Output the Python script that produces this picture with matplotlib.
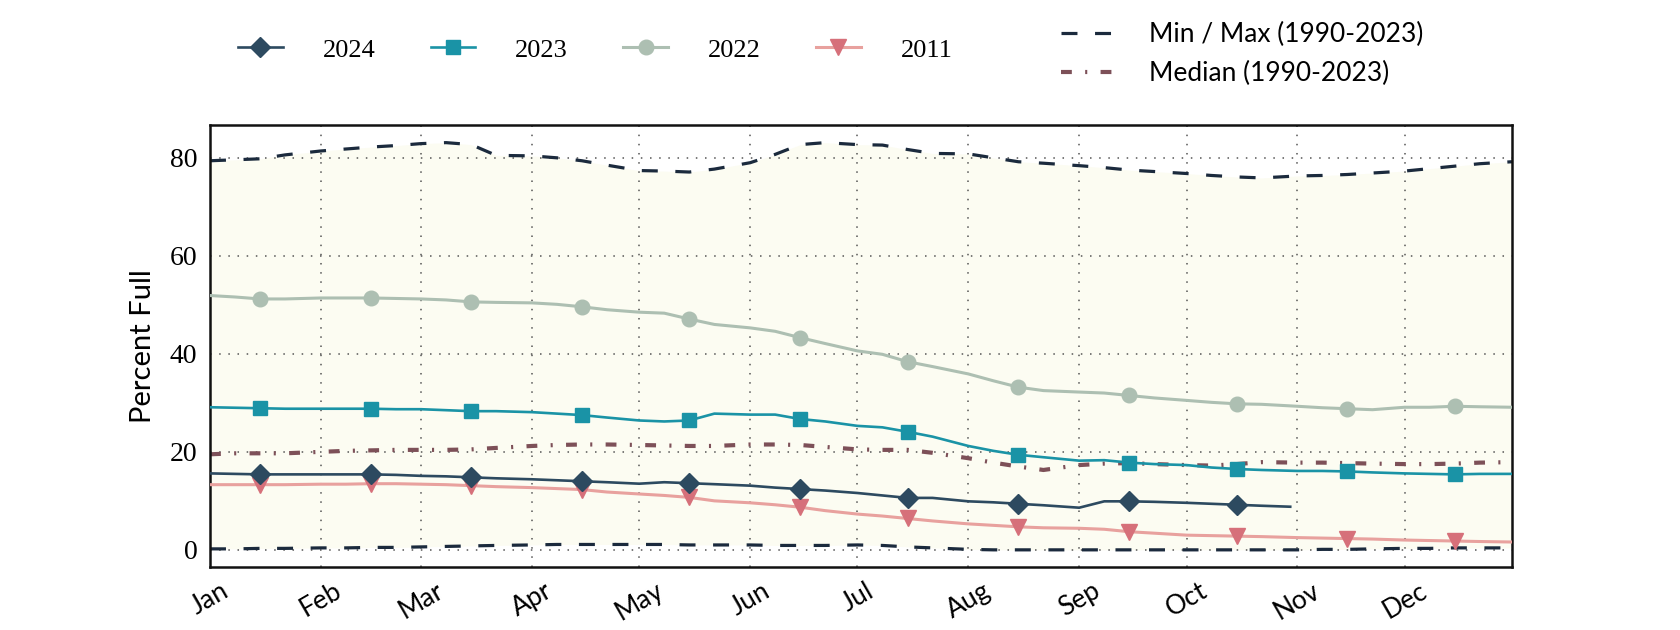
import datetime as dt
import matplotlib
matplotlib.use('Agg')
import matplotlib.pyplot as plt
import matplotlib.dates as mdates

# sample days: 1st, 8th, 15th, 22nd of every month, plus Dec 31
dates = [f'{m:02d}-{d:02d}' for m in range(1, 13) for d in (1, 8, 15, 22)] + ['12-31']
dates_2024 = dates[:40] + ['10-30']

max_1990_2023 = [79.4, 79.6, 79.8, 80.6, 81.4, 81.8, 82.2, 82.5, 82.9, 83.1, 82.7, 80.5,
                 80.4, 80.0, 79.4, 78.5, 77.4, 77.3, 77.1, 77.7, 79.0, 80.7, 82.7, 83.1,
                 82.7, 82.6, 81.7, 80.9, 80.8, 80.0, 79.2, 78.9, 78.4, 78.0, 77.5, 77.2,
                 76.8, 76.4, 76.1, 75.9, 76.3, 76.4, 76.6, 76.9, 77.3, 77.8, 78.3, 78.8, 79.2]
min_1990_2023 = [0.2, 0.2, 0.3, 0.3, 0.4, 0.4, 0.5, 0.5, 0.6, 0.7, 0.8, 0.9,
                 1.0, 1.1, 1.1, 1.1, 1.1, 1.1, 1.0, 1.0, 1.0, 0.9, 0.9, 0.9,
                 1.0, 0.9, 0.6, 0.4, 0.1, 0.0, 0.0, 0.0, 0.0, 0.0, 0.0, 0.0,
                 0.0, 0.0, 0.0, 0.0, 0.0, 0.1, 0.1, 0.2, 0.3, 0.3, 0.4, 0.4, 0.4]
median_1990_2023 = [19.5, 19.7, 19.7, 19.7, 20.0, 20.2, 20.3, 20.4, 20.4, 20.4, 20.5, 20.8,
                    21.2, 21.4, 21.5, 21.5, 21.4, 21.3, 21.2, 21.2, 21.5, 21.5, 21.4, 21.0,
                    20.5, 20.4, 20.4, 19.8, 18.7, 17.8, 17.0, 16.3, 17.3, 17.6, 17.7, 17.5,
                    17.3, 17.2, 17.5, 17.9, 17.8, 17.8, 17.7, 17.6, 17.5, 17.5, 17.6, 17.8, 17.9]
y2022 = [51.9, 51.6, 51.2, 51.2, 51.4, 51.4, 51.4, 51.3, 51.2, 51.0, 50.6, 50.5,
         50.4, 50.1, 49.6, 49.0, 48.5, 48.3, 47.1, 46.0, 45.3, 44.6, 43.3, 42.1,
         40.6, 39.9, 38.4, 37.4, 35.9, 34.5, 33.2, 32.5, 32.2, 32.0, 31.5, 31.0,
         30.5, 30.1, 29.8, 29.7, 29.3, 29.0, 28.8, 28.6, 29.1, 29.1, 29.3, 29.2, 29.1]
y2023 = [29.1, 29.0, 28.9, 28.8, 28.8, 28.8, 28.8, 28.7, 28.7, 28.5, 28.3, 28.3,
         28.1, 27.8, 27.5, 27.0, 26.4, 26.2, 26.4, 27.8, 27.6, 27.6, 26.7, 26.2,
         25.3, 25.0, 24.1, 23.1, 21.2, 20.2, 19.4, 18.9, 18.2, 18.3, 17.8, 17.5,
         17.3, 16.8, 16.5, 16.3, 16.1, 16.1, 16.0, 15.8, 15.6, 15.5, 15.4, 15.5, 15.5]
y2024 = [15.6, 15.5, 15.4, 15.4, 15.4, 15.4, 15.4, 15.3, 15.1, 15.0, 14.8, 14.6,
         14.4, 14.2, 14.0, 13.8, 13.5, 13.8, 13.6, 13.4, 13.1, 12.7, 12.4, 12.1,
         11.6, 11.1, 10.6, 10.6, 9.9, 9.7, 9.4, 9.1, 8.6, 9.9, 9.9, 9.8,
         9.6, 9.4, 9.2, 9.0, 8.8]
y2011 = [13.3, 13.3, 13.3, 13.3, 13.4, 13.4, 13.5, 13.5, 13.4, 13.3, 13.1, 12.9,
         12.7, 12.5, 12.3, 11.8, 11.4, 11.1, 10.7, 10.0, 9.6, 9.2, 8.7, 8.0,
         7.3, 6.9, 6.4, 5.9, 5.3, 5.0, 4.7, 4.5, 4.4, 4.2, 3.7, 3.4,
         3.0, 2.9, 2.8, 2.7, 2.5, 2.4, 2.3, 2.2, 2.0, 1.9, 1.8, 1.7, 1.6]

SANS = ['Lato', 'DejaVu Sans']
SERIF = ['Liberation Serif', 'DejaVu Serif']


def to_dates(labels):
    return [dt.datetime.strptime('2023-' + s, '%Y-%m-%d') for s in labels]


x = to_dates(dates)
x24 = to_dates(dates_2024)
marks = slice(2, None, 4)  # the 15th of each month

fig = plt.figure(figsize=(16.8, 6.3), dpi=100)
ax = fig.add_axes([0.125, 0.1, 0.775, 0.7016])

ax.fill_between(x, min_1990_2023, max_1990_2023, color='#fcfcf2', lw=0, zorder=0.2)
ax.plot(x, max_1990_2023, color='#1b2a3d', lw=2.3, dashes=(5, 5.5),
        label='Min / Max (1990-2023)', zorder=2)
ax.plot(x, min_1990_2023, color='#1b2a3d', lw=2.3, dashes=(5, 5.5), zorder=2)
ax.plot(x, median_1990_2023, color='#7d5058', lw=3.0, dashes=(2.6, 3.2, 0.5, 3.2),
        label='Median (1990-2023)', zorder=2)

l2011, = ax.plot(x, y2011, color='#e8a19e', lw=2.2, marker='v', ms=11,
                 mfc='#d6707a', mec='#d6707a', markevery=marks, label='2011', zorder=3)
l2022, = ax.plot(x, y2022, color='#adbfb2', lw=2.2, marker='o', ms=10.5,
                 markevery=marks, label='2022', zorder=3)
l2023, = ax.plot(x, y2023, color='#1a93a6', lw=1.9, marker='s', ms=10.5,
                 markevery=marks, label='2023', zorder=4)
l2024, = ax.plot(x24, y2024, color='#2d4a60', lw=1.9, marker='D', ms=10,
                 markevery=marks, label='2024', zorder=5)

ax.set_xlim(dt.datetime(2023, 1, 1), dt.datetime(2023, 12, 31))
ax.set_ylim(-3.5, 86.7)
ax.xaxis.set_major_locator(mdates.MonthLocator())
ax.xaxis.set_major_formatter(mdates.DateFormatter('%b'))
ax.set_yticks([0, 20, 40, 60, 80])

ax.grid(True, color='#555555', lw=1.1, linestyle=(0, (1, 5)))
ax.set_axisbelow(True)
ax.tick_params(length=0, pad=9)
ax.tick_params(axis='x', pad=8)
for lab in ax.get_xticklabels():
    lab.set_rotation(30)
    lab.set_ha('center')
    lab.set_family(SANS)
    lab.set_fontsize(19)
for lab in ax.get_yticklabels():
    lab.set_family(SERIF)
    lab.set_fontsize(20)
for sp in ax.spines.values():
    sp.set_linewidth(1.8)
    sp.set_color('#111111')

ax.set_ylabel('Percent Full', family=SANS, fontsize=21, labelpad=10)

leg1 = fig.legend(handles=[l2024, l2023, l2022, l2011], loc='center left',
                  bbox_to_anchor=(238 / 1680, 1 - 50 / 630), ncol=4, frameon=False,
                  borderpad=0, borderaxespad=0, handlelength=1.7, handletextpad=1.5,
                  columnspacing=2.1, prop={'family': SERIF, 'size': 19})
handles, labels = ax.get_legend_handles_labels()
leg2 = fig.legend(handles=handles[:2], labels=labels[:2], loc='center left',
                  bbox_to_anchor=(1061 / 1680, 1 - 54 / 630), ncol=1, frameon=False,
                  borderpad=0, borderaxespad=0, handlelength=1.95, handletextpad=1.4,
                  labelspacing=0.55, prop={'family': SANS, 'size': 19})

fig.savefig('out.png', dpi=100)
